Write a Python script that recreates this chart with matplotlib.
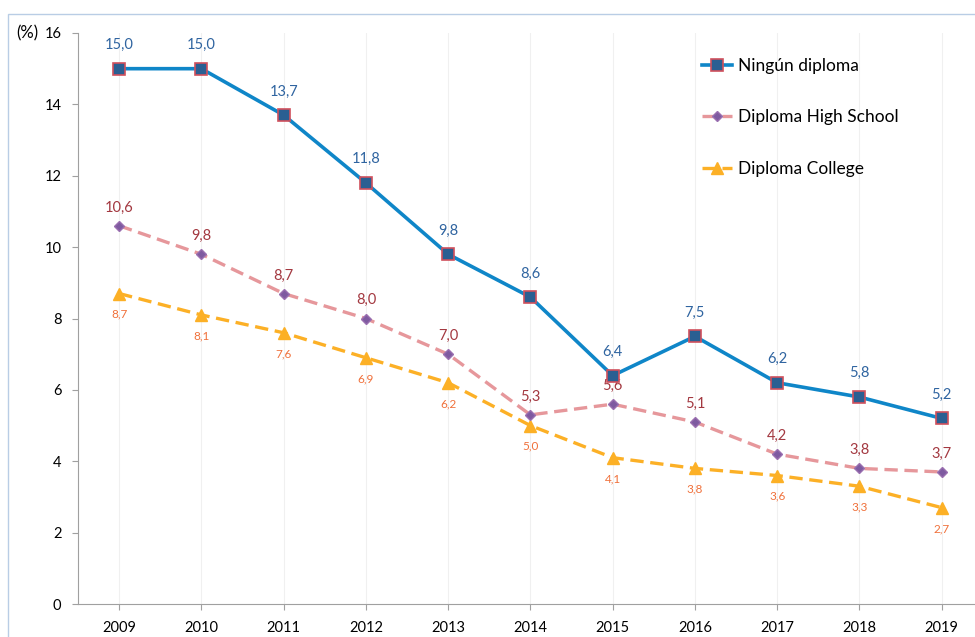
import matplotlib.pyplot as plt
from matplotlib.patches import Rectangle

plt.rcParams['font.family'] = ['Lato', 'DejaVu Sans']

# Data
years = [2009, 2010, 2011, 2012, 2013, 2014, 2015, 2016, 2017, 2018, 2019]
ningun = [15.0, 15.0, 13.7, 11.8, 9.8, 8.6, 6.4, 7.5, 6.2, 5.8, 5.2]
high_school = [10.6, 9.8, 8.7, 8.0, 7.0, 5.3, 5.6, 5.1, 4.2, 3.8, 3.7]
college = [8.7, 8.1, 7.6, 6.9, 6.2, 5.0, 4.1, 3.8, 3.6, 3.3, 2.7]
names = ['Ningún diploma', 'Diploma High School', 'Diploma College']

def fmt(v):
    return f'{v:.1f}'.replace('.', ',')

fig = plt.figure(figsize=(9.75, 6.37), dpi=100)
ax = fig.add_axes([0.08, 0.0518, 0.928, 0.8964])

# outer frame
fig.patches.append(Rectangle((8 / 975, -0.01), 1.0, 1 - 14 / 637 + 0.01,
                             transform=fig.transFigure, fill=False,
                             edgecolor='#b9cde5', lw=1.0, zorder=0))

ax.plot(years, ningun, color='#0f86c8', lw=2.6, marker='s', ms=8,
        markerfacecolor='#2a5f92', markeredgecolor='#d0505c', markeredgewidth=1.2,
        label=names[0], zorder=5)
ax.plot(years, high_school, color='#e6979b', lw=2.4, ls=(0, (4, 2)), marker='D', ms=5,
        markerfacecolor='#7e5aa0', markeredgecolor='#9a6fb0', label=names[1], zorder=4)
ax.plot(years, college, color='#fcb026', lw=2.4, ls=(0, (4, 2)), marker='^', ms=8,
        markerfacecolor='#fcb026', markeredgecolor='#fcb026', label=names[2], zorder=3)

for x, v in zip(years, ningun):
    ax.annotate(fmt(v), (x, v), xytext=(0, 12), textcoords='offset points',
                ha='center', va='bottom', fontsize=10.5, color='#2f64a0')
for x, v in zip(years, high_school):
    ax.annotate(fmt(v), (x, v), xytext=(0, 8), textcoords='offset points',
                ha='center', va='bottom', fontsize=10.5, color='#a33840')
for x, v in zip(years, college):
    ax.annotate(fmt(v), (x, v), xytext=(0, -11), textcoords='offset points',
                ha='center', va='top', fontsize=8.5, color='#f0703a')

ax.set_xlim(2008.5, 2019.5)
ax.set_ylim(0, 16)
ax.set_xticks(years)
ax.set_yticks(range(0, 17, 2))
ax.tick_params(axis='both', labelsize=10.5, colors='#000000', length=4)
ax.tick_params(axis='both', color='#a0a0a0')
ax.tick_params(axis='x', pad=8)
ax.tick_params(axis='y', pad=8)
ax.grid(axis='x', color='#f0f0f0', lw=0.8)
ax.set_axisbelow(True)
for s in ['top', 'right']:
    ax.spines[s].set_visible(False)
for s in ['left', 'bottom']:
    ax.spines[s].set_color('#a0a0a0')

ax.text(-0.044, 1.0, '(%)', transform=ax.transAxes, ha='right', va='center', fontsize=12)

ax.legend(loc='upper left', bbox_to_anchor=(0.672, 0.984), frameon=False,
          fontsize=12.5, labelspacing=2.05, handlelength=1.75, handletextpad=0.35)

fig.savefig('out.png', dpi=100)
